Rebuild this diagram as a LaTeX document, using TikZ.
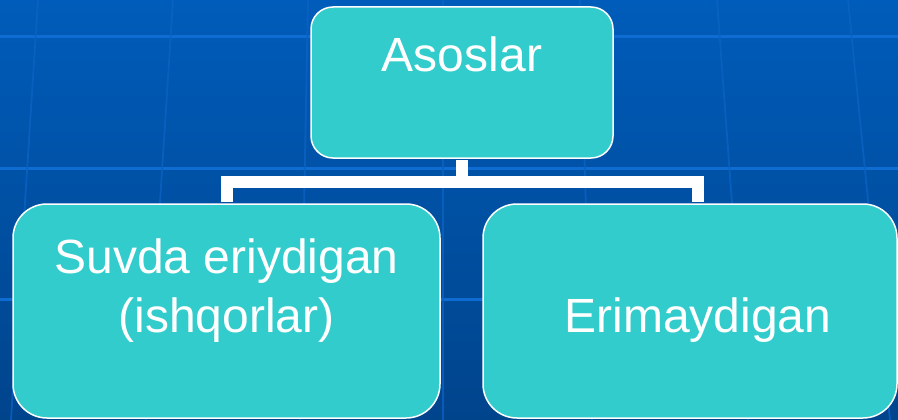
\documentclass[tikz,border=0pt]{standalone}
\usepackage{fontspec}
\setmainfont{Liberation Sans}
\definecolor{bgtop}{HTML}{005CBA}
\definecolor{bgbot}{HTML}{00448C}
\definecolor{gridh}{HTML}{0E6CD2}
\definecolor{gridv}{HTML}{0A62C2}
\definecolor{boxfill}{HTML}{33CCCC}
\tikzset{
  box/.style={draw=white, line width=1.5pt, fill=boxfill, rectangle, inner sep=0pt},
  lbl/.style={text=white, anchor=base, inner sep=0pt, font=\fontsize{48}{58}\selectfont},
  conn/.style={draw=white, line width=12pt, line join=miter},
  gline/.style={gridv, line width=1.8pt, opacity=0.8},
}
\begin{document}
\begin{tikzpicture}[x=1pt, y=-1pt]
\useasboundingbox (0,0) rectangle (898,420);
\shade[top color=bgtop, bottom color=bgbot] (0,0) rectangle (898,420);
% grid lines
\foreach \yy in {37,168,299} \draw[gridh, line width=3pt] (0,\yy) -- (898,\yy);
\foreach \xa/\xb in {38/11,173/146,308/300,443/443,580/592,717/748,848/890}
  \draw[gline] (\xa,0) -- (\xb,420);
% boxes
\node[box, rounded corners=22pt, minimum width=302pt, minimum height=151pt] (top) at (462,82.5) {};
\node[box, rounded corners=34pt, minimum width=427pt, minimum height=214pt] (left) at (226.5,311) {};
\node[box, rounded corners=34pt, minimum width=414pt, minimum height=214pt] (right) at (690,311) {};
% connectors
\coordinate (j) at (462,181.5);
\coordinate (rtop) at ([xshift=8pt]right.north);
\draw[conn] ([yshift=-1pt]top.south) -- (j);
\draw[conn] ([yshift=1pt]left.north) |- (j) -| ([yshift=1pt]rtop);
% labels
\node[lbl] (t1) at (462,72) {Asoslar};
\node[lbl] (t2) at (226.5,273) {Suvda eriydigan};
\node[lbl] (t3) at (226.5,332) {(ishqorlar)};
\node[lbl] (t4) at (698,332) {Erimaydigan};
\end{tikzpicture}
\end{document}
